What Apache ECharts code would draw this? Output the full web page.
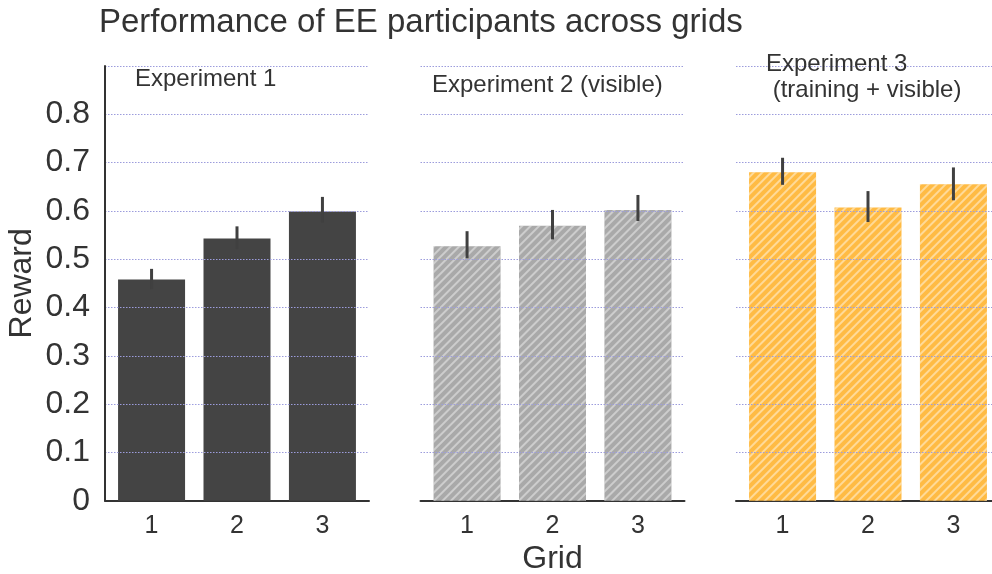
<!DOCTYPE html>
<html>
<head>
<meta charset="utf-8">
<script src="https://cdn.jsdelivr.net/npm/echarts@6/dist/echarts.min.js"></script>
<style>
  html, body { margin: 0; padding: 0; background: #fff; }
  #chart { width: 992px; height: 574px; }
</style>
</head>
<body>
<div id="chart"></div>
<script>
// Grid labels shared by all three panels
const grids = ['1', '2', '3'];
const gridPos = [0, 1, 2];
const yTicks = [0, 0.1, 0.2, 0.3, 0.4, 0.5, 0.6, 0.7, 0.8];

// Mean reward per grid and its error range, one set per experiment
const exp1Reward = [0.458, 0.543, 0.599];
const exp1Low    = [0.438, 0.521, 0.576];
const exp1High   = [0.480, 0.568, 0.629];

const exp2Reward = [0.527, 0.569, 0.602];
const exp2Low    = [0.502, 0.541, 0.579];
const exp2High   = [0.558, 0.602, 0.633];

const exp3Reward = [0.680, 0.607, 0.655];
const exp3Low    = [0.654, 0.577, 0.622];
const exp3High   = [0.710, 0.641, 0.690];

const panelTitles = ['Experiment 1', 'Experiment 2 (visible)', 'Experiment 3\n (training + visible)'];

const FONT = '"Liberation Sans", Arial, sans-serif';
const TXT = '#333333';

const panels = [
  { reward: exp1Reward, low: exp1Low, high: exp1High, color: '#444444', hatch: null },
  { reward: exp2Reward, low: exp2Low, high: exp2High, color: '#a9a9a9', hatch: 'rgba(255,255,255,0.42)' },
  { reward: exp3Reward, low: exp3Low, high: exp3High, color: '#ffbb44', hatch: 'rgba(255,255,255,0.45)' }
];

const gridLefts = [105, 420.5, 736];

const grid = gridLefts.map(l => ({
  left: l, width: 264, top: 66, bottom: 73.3,
  containLabel: false,
  outerBoundsMode: 'none'
}));

const xAxis = panels.map((p, i) => ({
  type: 'value',
  gridIndex: i,
  min: -0.545,
  max: 2.545,
  splitLine: { show: false },
  axisTick: { show: false },
  axisLine: { show: true, onZero: false, lineStyle: { color: '#333333', width: 2 } },
  axisLabel: {
    customValues: gridPos,
    formatter: v => grids[Math.round(v)],
    fontSize: 25, color: TXT, fontFamily: FONT, margin: 13
  },
  name: i === 1 ? 'Grid' : '',
  nameLocation: 'middle',
  nameGap: 42,
  nameTextStyle: { fontSize: 32, color: TXT, fontFamily: FONT }
}));

const yAxis = panels.map((p, i) => ({
  type: 'value',
  gridIndex: i,
  min: 0,
  max: 0.9,
  interval: 0.1,
  z: 3,
  axisLine: { show: i === 0, onZero: false, lineStyle: { color: '#333333', width: 2 } },
  axisTick: { show: false },
  axisLabel: {
    show: i === 0,
    margin: 15,
    fontSize: 32, color: TXT, fontFamily: FONT,
    formatter: v => {
      const r = Math.round(v * 10) / 10;
      return yTicks.indexOf(r) >= 0 ? String(r) : '';
    }
  },
  splitLine: {
    show: true,
    showMinLine: false,
    lineStyle: { color: '#9c9cdc', type: [1.5, 1.5], width: 1 }
  },
  name: i === 0 ? 'Reward' : '',
  nameLocation: 'middle',
  nameGap: 67,
  nameTextStyle: { fontSize: 32, color: TXT, fontFamily: FONT }
}));

const series = [];
panels.forEach((p, i) => {
  const itemStyle = { color: p.color };
  if (p.hatch) {
    itemStyle.decal = {
      symbol: 'rect',
      symbolSize: 1,
      dashArrayX: [1, 0],
      dashArrayY: [1.6, 3.6],
      rotation: -Math.PI / 4,
      color: p.hatch
    };
  }
  series.push({
    type: 'bar',
    xAxisIndex: i,
    yAxisIndex: i,
    barWidth: 67,
    z: 2,
    itemStyle,
    data: p.reward.map((v, k) => [gridPos[k], v])
  });
  series.push({
    type: 'custom',
    xAxisIndex: i,
    yAxisIndex: i,
    z: 5,
    encode: { x: 0, y: [1, 2] },
    renderItem: (params, api) => {
      const x = api.value(0);
      const a = api.coord([x, api.value(1)]);
      const b = api.coord([x, api.value(2)]);
      return {
        type: 'line',
        shape: { x1: a[0], y1: a[1], x2: b[0], y2: b[1] },
        style: { stroke: '#404040', lineWidth: 3 }
      };
    },
    data: p.low.map((v, k) => [gridPos[k], v, p.high[k]])
  });
});

const titles = [
  { text: 'Performance of EE participants across grids', left: 94, top: 1,
    textStyle: { fontSize: 33, fontWeight: 'normal', color: TXT, fontFamily: FONT } },
  { text: panelTitles[0], left: 130, top: 62,
    textStyle: { fontSize: 24, fontWeight: 'normal', color: TXT, fontFamily: FONT } },
  { text: panelTitles[1], left: 427, top: 68,
    textStyle: { fontSize: 24, fontWeight: 'normal', color: TXT, fontFamily: FONT } },
  { text: panelTitles[2], left: 761, top: 46,
    textStyle: { fontSize: 24, fontWeight: 'normal', color: TXT, fontFamily: FONT, lineHeight: 26 } }
];

const chart = echarts.init(document.getElementById('chart'), null, { renderer: 'canvas' });
chart.setOption({
  animation: false,
  backgroundColor: '#ffffff',
  title: titles,
  grid,
  xAxis,
  yAxis,
  series
});
</script>
</body>
</html>
